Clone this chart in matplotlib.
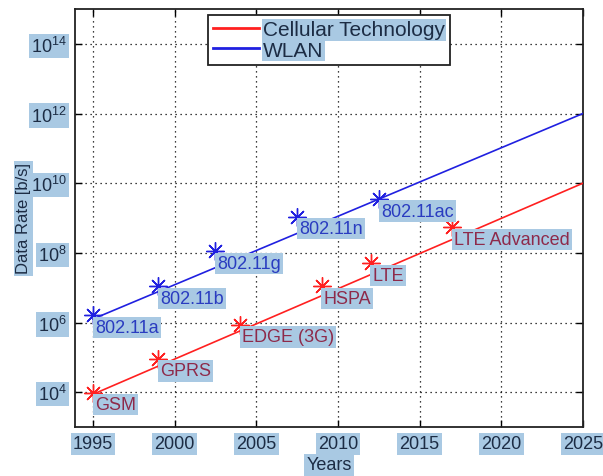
import matplotlib
matplotlib.use("Agg")
import matplotlib.pyplot as plt
from matplotlib.ticker import FixedLocator, NullLocator

plt.rcParams['font.family'] = ['Liberation Sans', 'DejaVu Sans']
plt.rcParams['mathtext.default'] = 'regular'

# Cellular technologies: introduction year and peak data rate [b/s]
cellular_names = ['GSM', 'GPRS', 'EDGE (3G)', 'HSPA', 'LTE', 'LTE Advanced']
cellular_years = [1995, 1999, 2004, 2009, 2012, 2017]
cellular_rates = [9.6e3, 9e4, 8.5e5, 1.1e7, 5e7, 5.4e8]

# WLAN standards: introduction year and peak data rate [b/s]
wlan_names = ['802.11a', '802.11b', '802.11g', '802.11n', '802.11ac']
wlan_years = [1995, 1999, 2002.5, 2007.5, 2012.5]
wlan_rates = [1.6e6, 1.1e7, 1.1e8, 1.1e9, 3.5e9]

# Exponential trend lines
trend_years = [1995, 2025]
cellular_trend = [8.7e3, 1e10]
wlan_trend = [1.26e6, 1e12]

x_ticks = [1995, 2000, 2005, 2010, 2015, 2020, 2025]
y_ticks = [1e4, 1e6, 1e8, 1e10, 1e12, 1e14]
y_tick_labels = ['$10^{4}$', '$10^{6}$', '$10^{8}$', '$10^{10}$', '$10^{12}$', '$10^{14}$']

HL = '#a9c9e3'
TXT = '#1c2c44'
hl_box = dict(boxstyle='square,pad=0.12', fc=HL, ec='none')

fig = plt.figure(figsize=(6.03, 4.77), dpi=100)
fig.subplots_adjust(left=75/603, right=583/603, top=1-10/477, bottom=1-428/477)
ax = fig.add_subplot(111)

ax.plot(trend_years, cellular_trend, color='#ff2020', lw=1.2, label='Cellular Technology', zorder=3)
ax.plot(trend_years, wlan_trend, color='#2020e0', lw=1.2, label='WLAN', zorder=3)

star = (8, 2, 0)
ax.plot(cellular_years, cellular_rates, ls='none', marker=star, ms=13, mew=1,
        color='#ff2020', zorder=4)
ax.plot(wlan_years, wlan_rates, ls='none', marker=star, ms=13, mew=1,
        color='#2020e0', zorder=4)

for name, x, y in zip(cellular_names, cellular_years, cellular_rates):
    ax.annotate(name, (x, y), xytext=(2, -12), textcoords='offset pixels',
                ha='left', va='center', fontsize=13, color='#8e2a4a',
                bbox=hl_box, zorder=5)
for name, x, y in zip(wlan_names, wlan_years, wlan_rates):
    ax.annotate(name, (x, y), xytext=(2, -12), textcoords='offset pixels',
                ha='left', va='center', fontsize=13, color='#2a3cc0',
                bbox=hl_box, zorder=5)

ax.set_yscale('log')
ax.set_xlim(1993.9, 2025)
ax.set_ylim(1e3, 1e15)
ax.xaxis.set_major_locator(FixedLocator(x_ticks))
ax.yaxis.set_major_locator(FixedLocator(y_ticks))
ax.yaxis.set_minor_locator(NullLocator())
ax.set_yticklabels(y_tick_labels)

ax.tick_params(direction='in', length=5, width=1, top=True, right=True,
               labelsize=13, labelcolor=TXT, pad=6)
for lbl in ax.get_xticklabels() + ax.get_yticklabels():
    lbl.set_bbox(hl_box)

ax.grid(True, color='black', ls=(0, (1, 3)), lw=0.9)
for s in ax.spines.values():
    s.set_linewidth(1.3)
    s.set_color('#222222')

ax.set_xlabel('Years', fontsize=13, color=TXT, labelpad=3, bbox=hl_box)
ax.set_ylabel('Data Rate [b/s]', fontsize=12, color=TXT, labelpad=0, bbox=hl_box)

leg = ax.legend(loc='upper center', bbox_to_anchor=(0.5, 0.985), fontsize=15,
                fancybox=False, framealpha=1, edgecolor='#222222',
                handlelength=2.2, handletextpad=0.2, borderpad=0.25,
                labelspacing=0.05, borderaxespad=0)
leg.get_frame().set_linewidth(1.3)
for t in leg.get_texts():
    t.set_color(TXT)
    t.set_bbox(dict(boxstyle='square,pad=0.05', fc=HL, ec='none'))
for h in leg.get_lines():
    h.set_linewidth(2)

fig.savefig('out.png', dpi=100)
